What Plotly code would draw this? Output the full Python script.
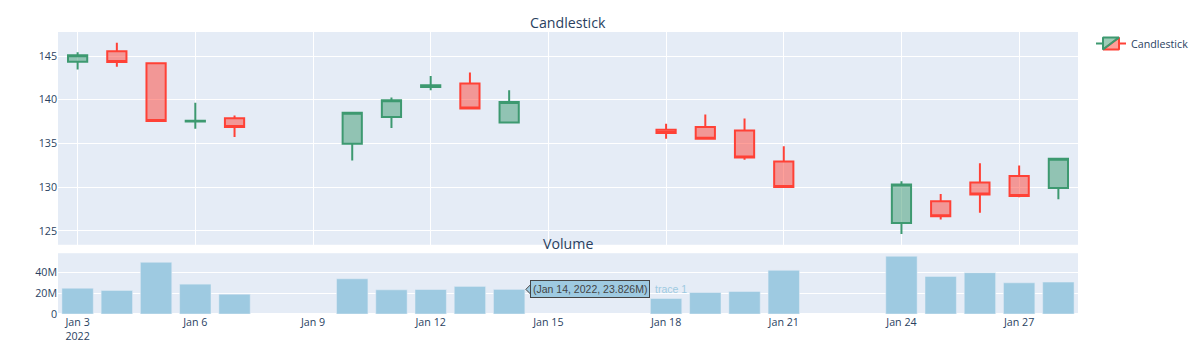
import plotly.graph_objects as go
from plotly.subplots import make_subplots

dates = ["2022-01-03", "2022-01-04", "2022-01-05", "2022-01-06", "2022-01-07",
         "2022-01-10", "2022-01-11", "2022-01-12", "2022-01-13", "2022-01-14",
         "2022-01-18", "2022-01-19", "2022-01-20", "2022-01-21",
         "2022-01-24", "2022-01-25", "2022-01-26", "2022-01-27", "2022-01-28"]
open_ = [144.35, 145.54, 144.16, 137.50, 137.87, 134.96, 138.03, 141.45, 141.86, 137.38,
         136.57, 136.88, 136.49, 132.93, 125.88, 128.37, 130.52, 131.28, 129.90]
high = [145.42, 146.53, 144.23, 139.64, 138.18, 138.55, 140.25, 142.70, 143.12, 141.09,
        137.26, 138.30, 137.84, 134.66, 130.67, 129.21, 132.74, 132.47, 133.30]
low = [143.47, 143.77, 137.45, 136.69, 135.73, 133.05, 136.76, 141.09, 138.87, 137.38,
       135.54, 135.42, 133.12, 130.00, 124.62, 126.30, 127.07, 128.83, 128.60]
close = [145.08, 144.31, 137.57, 137.60, 136.87, 138.52, 139.94, 141.65, 138.98, 139.75,
         136.19, 135.54, 133.39, 130.02, 130.29, 126.65, 129.14, 128.98, 133.24]
volume = [25.0e6, 22.8e6, 50.1e6, 28.9e6, 19.2e6, 34.1e6, 23.4e6, 23.7e6, 26.7e6, 23.826e6,
          15.0e6, 20.8e6, 21.8e6, 42.3e6, 55.9e6, 36.4e6, 40.0e6, 30.2e6, 30.9e6]

bar_color = "#9ecae1"

fig = make_subplots(rows=2, cols=1, shared_xaxes=True, vertical_spacing=0.03,
                    subplot_titles=("Candlestick", "Volume"), row_heights=[0.7, 0.2])

fig.add_trace(go.Candlestick(x=dates, open=open_, high=high, low=low, close=close,
                             name="Candlestick", showlegend=True), row=1, col=1)
fig.add_trace(go.Bar(x=dates, y=volume, name="trace 1", showlegend=False,
                     marker_color=bar_color), row=2, col=1)
fig.update_annotations(font_size=14.2, yshift=-2)

# mimic the hover label shown in the reference on the Jan 14 bar
hover_idx = 9
hover_x = dates[hover_idx] + " 09:36"
fig.add_shape(type="path", xref="x2", yref="y2", xsizemode="pixel", ysizemode="pixel",
              xanchor=hover_x, yanchor=volume[hover_idx],
              path="M1,0 L6,-5 L6,5 Z", fillcolor=bar_color,
              line=dict(color="#444", width=1), layer="above")
fig.add_annotation(x=hover_x, y=volume[hover_idx], xref="x2", yref="y2",
                   text="(Jan 14, 2022, 23.826M)", showarrow=False,
                   xanchor="left", yanchor="middle", xshift=5,
                   bgcolor=bar_color, bordercolor="#444", borderwidth=1, borderpad=2,
                   font=dict(family="Arial", size=10.5, color="#444"))
fig.add_annotation(x=hover_x, y=volume[hover_idx], xref="x2", yref="y2",
                   text="trace 1", showarrow=False,
                   xanchor="left", yanchor="middle", xshift=128,
                   font=dict(family="Arial", size=10.5, color=bar_color))

fig.update_layout(width=1200, height=361,
                  font=dict(size=10.7),
                  margin=dict(l=50, r=130, t=24, b=55),
                  xaxis_rangeslider_visible=False,
                  showlegend=True,
                  legend=dict(xref="container", yref="container",
                              x=1083 / 1200, y=1 - 21 / 361,
                              xanchor="left", yanchor="top"))

fig.write_html("out.html")
